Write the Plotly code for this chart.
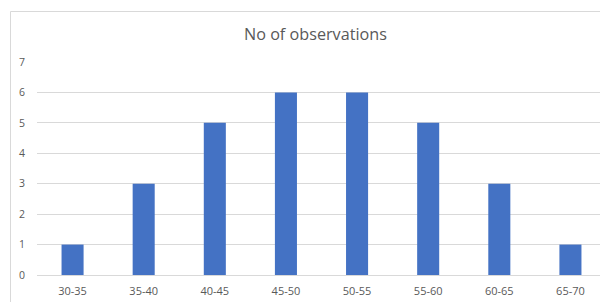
import plotly.graph_objects as go

categories = ["30-35", "35-40", "40-45", "45-50", "50-55", "55-60", "60-65", "65-70"]
observations = [1, 3, 5, 6, 6, 5, 3, 1]
y_ticks = [0, 1, 2, 3, 4, 5, 6, 7]

# page body has an 8px margin, so the figure is drawn 8px in from the top-left
OFF = 8
W, H = 608 - OFF, 302 - OFF
L, R, T, B = 37 - OFF, 2, 62 - OFF, 27
pw = W - L - R
ph = H - T - B

fig = go.Figure(go.Bar(
    x=categories, y=observations,
    marker=dict(color="#4472C4", line=dict(width=0)),
    width=0.31,
))

font = "Open Sans, Liberation Sans, Arial, sans-serif"
fig.update_layout(
    width=W, height=H,
    margin=dict(l=L, r=R, t=T, b=B, autoexpand=False),
    paper_bgcolor="white", plot_bgcolor="white",
    showlegend=False,
    font=dict(family=font, size=10, color="#595959"),
    xaxis=dict(showgrid=False, showline=True, linecolor="#d9d9d9", linewidth=1,
               ticks="", tickfont=dict(size=11, color="#595959"),
               ticklabelstandoff=6, zeroline=False, automargin=False),
    yaxis=dict(range=[0, 7], tickvals=y_ticks, showgrid=True, gridcolor="#d9d9d9",
               gridwidth=1, zeroline=False, showline=False, ticks="",
               tickfont=dict(size=10.5, color="#595959"), ticklabelstandoff=11,
               automargin=False),
    annotations=[dict(text="No of observations", x=(315 - 37) / pw, y=(275 - 34) / ph,
                      xref="paper", yref="paper", showarrow=False,
                      font=dict(size=16.2, color="#595959", family=font),
                      xanchor="center", yanchor="middle")],
    shapes=[dict(type="rect", xref="paper", yref="paper",
                 x0=(10.5 - 37) / pw, x1=(608 + 5 - 37) / pw,
                 y0=(275 - (302 + 5)) / ph, y1=(275 - 11.5) / ph,
                 line=dict(color="#d9d9d9", width=1), layer="below")],
)

fig.write_html("out.html")
